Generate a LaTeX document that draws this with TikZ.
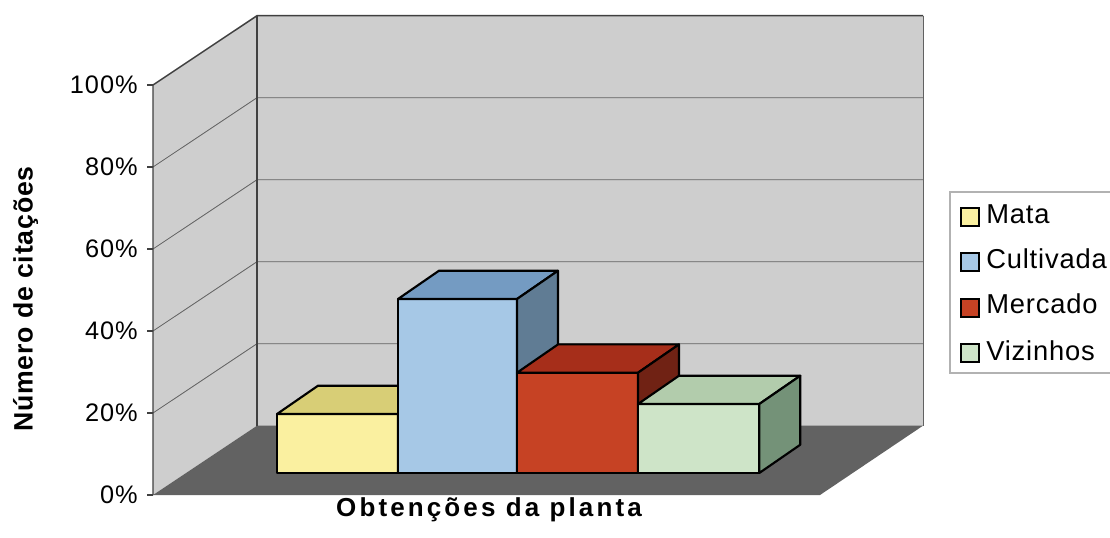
\documentclass[tikz,border=0pt]{standalone}
\usepackage{fontspec}
\setmainfont{Liberation Sans}
\newfontfamily\tickfont[LetterSpace=4]{Liberation Sans}
\newfontfamily\keyfont[LetterSpace=3]{Liberation Sans}
\newfontfamily\titlefont[LetterSpace=12]{Liberation Sans}
\newfontfamily\ytitlefont[LetterSpace=3]{Liberation Sans}

\definecolor{wallgray}{RGB}{206,206,206}
\definecolor{floorgray}{RGB}{98,98,98}
\definecolor{mataF}{RGB}{250,240,160}
\definecolor{mataT}{RGB}{216,206,118}
\definecolor{mataS}{RGB}{170,160,90}
\definecolor{cultF}{RGB}{166,200,230}
\definecolor{cultT}{RGB}{116,155,194}
\definecolor{cultS}{RGB}{96,124,148}
\definecolor{mercF}{RGB}{198,66,36}
\definecolor{mercT}{RGB}{166,46,26}
\definecolor{mercS}{RGB}{112,34,20}
\definecolor{vizF}{RGB}{206,228,200}
\definecolor{vizT}{RGB}{178,204,172}
\definecolor{vizS}{RGB}{116,146,120}

\begin{document}
\begin{tikzpicture}[x=0.75pt,y=0.75pt,yscale=-1,xscale=1,
	frameln/.style={draw=black!75,line width=1.1},
	gridln/.style={draw=black!62,line width=0.6},
	cube/.style={draw=black,line width=1.6,line join=round},
	ticklbl/.style={anchor=east,inner sep=0.75pt,font=\tickfont\fontsize{19}{21}\selectfont},
	keybox/.style={draw=black,line width=1.1,minimum size=13.5pt,inner sep=0pt},
	keylbl/.style={anchor=base west,inner sep=0.75pt,font=\keyfont\fontsize{20.5}{22}\selectfont}]
	\useasboundingbox (0,0) rectangle (1110,537);

	% Walls
	\fill [wallgray] (153,85) -- (257,15.7) -- (257,425.7) -- (153,495) -- cycle;
	\fill [wallgray] (257,15.7) rectangle (923,425.7);
	% Floor
	\fill [floorgray] (153,495) -- (820,495) -- (923,425.7) -- (257,425.7) -- cycle;
	% Grid Line
	\draw [gridln] (153,167) -- (257,97.7) -- (923,97.7);
	\draw [gridln] (153,249) -- (257,179.7) -- (923,179.7);
	\draw [gridln] (153,331) -- (257,261.7) -- (923,261.7);
	\draw [gridln] (153,413) -- (257,343.7) -- (923,343.7);
	\draw [gridln] (923,15.7) -- (923,425.7);
	% Frame
	\draw [frameln] (153,495) -- (153,85) -- (257,15.7) -- (923,15.7);
	\draw [frameln] (257,15.7) -- (257,425.7);
	% Tick
	\draw [frameln] (147,85) -- (153,85);
	\draw [frameln] (147,167) -- (153,167);
	\draw [frameln] (147,249) -- (153,249);
	\draw [frameln] (147,331) -- (153,331);
	\draw [frameln] (147,413) -- (153,413);
	\draw [frameln] (147,495) -- (153,495);

	% Bar Mata
	\draw [cube,fill=mataF] (277,414) rectangle (398,473);
	\draw [cube,fill=mataT] (277,414) -- (318,385.7) -- (439,385.7) -- (398,414) -- cycle;
	\draw [cube,fill=mataS] (398,414) -- (439,385.7) -- (439,444.7) -- (398,473) -- cycle;
	% Bar Cultivada
	\draw [cube,fill=cultF] (398,299) rectangle (517,473);
	\draw [cube,fill=cultT] (398,299) -- (439,270.7) -- (558,270.7) -- (517,299) -- cycle;
	\draw [cube,fill=cultS] (517,299) -- (558,270.7) -- (558,444.7) -- (517,473) -- cycle;
	% Bar Mercado
	\draw [cube,fill=mercF] (517,372.7) rectangle (638,473);
	\draw [cube,fill=mercT] (517,372.7) -- (558,344.4) -- (679,344.4) -- (638,372.7) -- cycle;
	\draw [cube,fill=mercS] (638,372.7) -- (679,344.4) -- (679,444.7) -- (638,473) -- cycle;
	% Bar Vizinhos
	\draw [cube,fill=vizF] (638,404) rectangle (759.3,473);
	\draw [cube,fill=vizT] (638,404) -- (679,375.7) -- (800.3,375.7) -- (759.3,404) -- cycle;
	\draw [cube,fill=vizS] (759.3,404) -- (800.3,375.7) -- (800.3,444.7) -- (759.3,473) -- cycle;

	% Text Node
	\node [ticklbl] (p100) at (139,85) {100\%};
	\node [ticklbl] (p80) at (139,167) {80\%};
	\node [ticklbl] (p60) at (139,249) {60\%};
	\node [ticklbl] (p40) at (139,331) {40\%};
	\node [ticklbl] (p20) at (139,413) {20\%};
	\node [ticklbl] (p0) at (139,495) {0\%};
	% Text Node
	\node [anchor=base,rotate=90,inner sep=0pt,font=\ytitlefont\bfseries\fontsize{20}{22}\selectfont] (ytitle) at (32.5,299) {Número de citações};
	% Text Node
	\node [anchor=base,inner sep=0pt,font=\titlefont\bfseries\fontsize{19.5}{21}\selectfont] (xtitle) at (489,516) {Obtenções da planta};

	% Legend
	\draw [draw=black!30,fill=white,line width=0.8] (950,192) rectangle (1116,373);
	\node [keybox,fill=mataF] (kmata) at (970,217) {};
	\node [keybox,fill=cultF] (kcult) at (970,262) {};
	\node [keybox,fill=mercF] (kmerc) at (970,308) {};
	\node [keybox,fill=vizF] (kviz) at (970,353) {};
	\node [keylbl] (lmata) at (985,223) {Mata};
	\node [keylbl] (lcult) at (985,268) {Cultivada};
	\node [keylbl] (lmerc) at (985,313.5) {Mercado};
	\node [keylbl] (lviz) at (985,360) {Vizinhos};

\end{tikzpicture}
\end{document}
